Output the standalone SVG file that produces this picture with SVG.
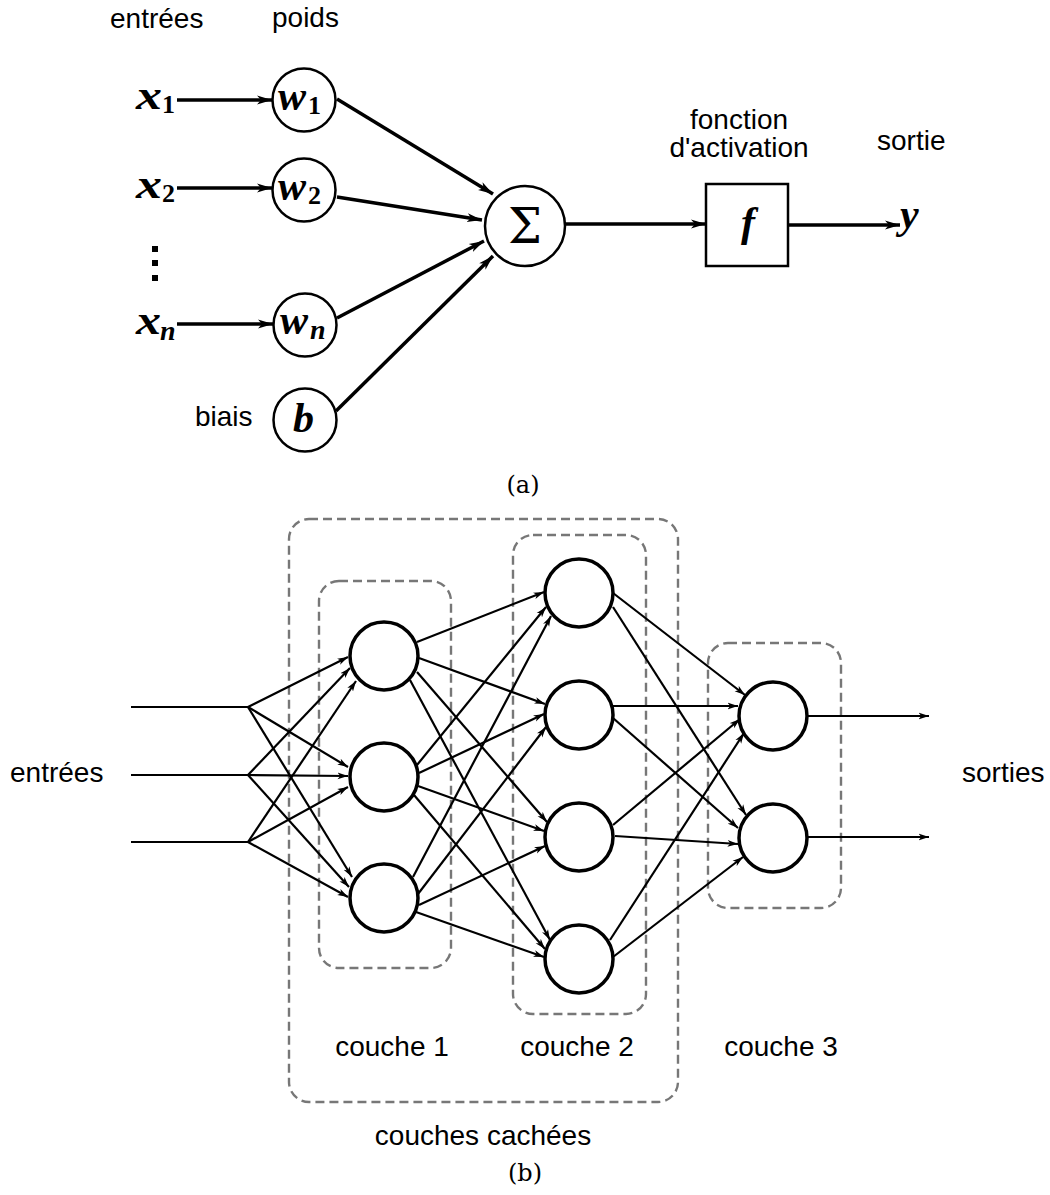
<svg xmlns="http://www.w3.org/2000/svg" width="1050" height="1195" viewBox="0 0 1050 1195">
<style>
.lbl{font-family:"Liberation Sans",Arial,sans-serif;font-size:28px;fill:#000}
.mid{text-anchor:middle}
.cap{font-family:"DejaVu Serif","Liberation Serif",serif;font-size:24px;fill:#000;text-anchor:middle}
.m{font-family:"Liberation Serif","Times New Roman",serif;font-style:italic;font-weight:bold;font-size:42px;fill:#000}
.sub{font-family:"Liberation Serif","Times New Roman",serif;font-weight:bold;font-size:26px;fill:#000}
.subi{font-family:"Liberation Serif","Times New Roman",serif;font-style:italic;font-weight:bold;font-size:28px;fill:#000}
.na{fill:#fff;stroke:#000;stroke-width:2.5}
.nb{fill:#fff;stroke:#000;stroke-width:3.5}
.ea{stroke:#000;stroke-width:3.5;fill:none;marker-end:url(#aa)}
.eb{stroke:#000;stroke-width:2.2;fill:none;marker-end:url(#ab)}
.pl{stroke:#000;stroke-width:2.2;fill:none}
.grp{fill:none;stroke:#777;stroke-width:2.4;stroke-dasharray:9 5}
</style>
<defs>
<marker id="aa" markerUnits="userSpaceOnUse" viewBox="0 0 16 10" markerWidth="16" markerHeight="10" refX="15" refY="5" orient="auto"><path d="M0,0.5 L15,5 L0,9.5 L4,5 z" fill="#000"/></marker>
<marker id="ab" markerUnits="userSpaceOnUse" viewBox="0 0 11 8" markerWidth="11" markerHeight="8" refX="10.5" refY="4" orient="auto"><path d="M0,0.6 L10.5,4 L0,7.4 L2.8,4 z" fill="#000"/></marker>
</defs>

<!-- ===== (a) ===== -->
<text class="lbl" x="110" y="28">entrées</text>
<text class="lbl" x="272" y="27">poids</text>
<text class="lbl mid" x="739" y="129">fonction</text>
<text class="lbl mid" x="739" y="157">d'activation</text>
<text class="lbl" x="877" y="150">sortie</text>
<text class="lbl" x="195" y="426">biais</text>

<g id="x1"><text class="m" x="136" y="109" textLength="26" lengthAdjust="spacingAndGlyphs">x</text><text class="sub" x="162" y="113">1</text></g>
<g id="x2"><text class="m" x="136" y="198" textLength="26" lengthAdjust="spacingAndGlyphs">x</text><text class="sub" x="162" y="202">2</text></g>
<g id="dots"><rect x="152" y="246" width="6" height="6"/><rect x="152" y="260" width="6" height="6"/><rect x="152" y="275" width="6" height="6"/></g>
<g id="xn"><text class="m" x="136" y="334" textLength="25" lengthAdjust="spacingAndGlyphs">x</text><text class="subi" x="160" y="340">n</text></g>

<g id="w1"><circle class="na" cx="304" cy="100" r="31.5"/><text class="m" x="278" y="110">w</text><text class="sub" x="308" y="114">1</text></g>
<g id="w2"><circle class="na" cx="304" cy="190" r="31.5"/><text class="m" x="278" y="200">w</text><text class="sub" x="308" y="204">2</text></g>
<g id="wn"><circle class="na" cx="305" cy="325" r="31.5"/><text class="m" x="280" y="334">w</text><text class="subi" x="310" y="339">n</text></g>
<g id="b"><circle class="na" cx="305" cy="420" r="31.5"/><text class="m" x="293" y="432">b</text></g>
<g id="sum"><circle class="na" cx="525" cy="226" r="40"/><text x="525" y="243" font-family="'DejaVu Serif','Liberation Serif',serif" font-size="48" text-anchor="middle">Σ</text></g>
<g id="f"><rect class="na" x="706" y="184" width="82" height="82"/><text class="m" x="741" y="236">f</text></g>
<g id="y"><text class="m" x="900" y="228">y</text></g>
<text class="cap" x="523" y="493">(a)</text>

<g id="connectors-a">
<line class="ea" x1="177" y1="100" x2="272" y2="100"/>
<line class="ea" x1="177" y1="188" x2="272" y2="188"/>
<line class="ea" x1="177" y1="324" x2="273" y2="324"/>
<line class="ea" x1="337" y1="99" x2="493" y2="194"/>
<line class="ea" x1="337" y1="197" x2="482" y2="220"/>
<line class="ea" x1="337" y1="318" x2="484" y2="241"/>
<line class="ea" x1="336" y1="411" x2="493" y2="256"/>
<line class="ea" x1="565" y1="224" x2="706" y2="224"/>
<line class="ea" x1="788" y1="225" x2="900" y2="225"/>
</g>

<!-- ===== (b) ===== -->
<g id="groups">
<rect id="hidden" class="grp" x="289" y="519" width="389" height="583" rx="20"/>
<rect id="box1" class="grp" x="319" y="581" width="132" height="387" rx="20"/>
<rect id="box2" class="grp" x="513" y="535" width="133" height="479" rx="20"/>
<rect id="box3" class="grp" x="708" y="643" width="133" height="265" rx="20"/>
</g>

<g id="connectors-b">
<line class="pl" x1="131" y1="707" x2="248" y2="707"/>
<line class="pl" x1="131" y1="775" x2="248" y2="775"/>
<line class="pl" x1="131" y1="842" x2="248" y2="842"/>
<line class="eb" x1="248" y1="707" x2="348" y2="657"/>
<line class="eb" x1="248" y1="707" x2="348" y2="767"/>
<line class="eb" x1="248" y1="707" x2="352" y2="877"/>
<line class="eb" x1="248" y1="775" x2="350" y2="668"/>
<line class="eb" x1="248" y1="775" x2="348" y2="776"/>
<line class="eb" x1="248" y1="775" x2="349" y2="887"/>
<line class="eb" x1="248" y1="842" x2="356" y2="681"/>
<line class="eb" x1="248" y1="842" x2="348" y2="787"/>
<line class="eb" x1="248" y1="842" x2="348" y2="897"/>

<line class="eb" x1="417" y1="642" x2="544" y2="592"/>
<line class="eb" x1="419" y1="658" x2="545" y2="704"/>
<line class="eb" x1="417" y1="672" x2="547" y2="822"/>
<line class="eb" x1="410" y1="680" x2="550" y2="940"/>
<line class="eb" x1="417" y1="765" x2="546" y2="607"/>
<line class="eb" x1="419" y1="773" x2="544" y2="714"/>
<line class="eb" x1="418" y1="786" x2="544" y2="831"/>
<line class="eb" x1="414" y1="795" x2="545" y2="949"/>
<line class="eb" x1="413" y1="877" x2="551" y2="616"/>
<line class="eb" x1="418" y1="894" x2="546" y2="727"/>
<line class="eb" x1="419" y1="905" x2="545" y2="846"/>
<line class="eb" x1="416" y1="912" x2="544" y2="957"/>

<line class="eb" x1="613" y1="593" x2="745" y2="695"/>
<line class="eb" x1="613" y1="607" x2="746" y2="815"/>
<line class="eb" x1="613" y1="706" x2="738" y2="706"/>
<line class="eb" x1="613" y1="718" x2="738" y2="828"/>
<line class="eb" x1="613" y1="825" x2="740" y2="719"/>
<line class="eb" x1="615" y1="836" x2="738" y2="844"/>
<line class="eb" x1="610" y1="940" x2="744" y2="733"/>
<line class="eb" x1="613" y1="957" x2="743" y2="857"/>

<line class="eb" x1="807" y1="716" x2="929" y2="716"/>
<line class="eb" x1="807" y1="837" x2="929" y2="837"/>
</g>

<g id="l1n1"><circle class="nb" cx="384" cy="656" r="34"/></g>
<g id="l1n2"><circle class="nb" cx="384" cy="777" r="34"/></g>
<g id="l1n3"><circle class="nb" cx="384" cy="898" r="34"/></g>
<g id="l2n1"><circle class="nb" cx="579" cy="593" r="34"/></g>
<g id="l2n2"><circle class="nb" cx="579" cy="715" r="34"/></g>
<g id="l2n3"><circle class="nb" cx="579" cy="837" r="34"/></g>
<g id="l2n4"><circle class="nb" cx="579" cy="959" r="34"/></g>
<g id="l3n1"><circle class="nb" cx="773" cy="716" r="34"/></g>
<g id="l3n2"><circle class="nb" cx="773" cy="838" r="34"/></g>

<text class="lbl" x="10" y="782">entrées</text>
<text class="lbl" x="962" y="782">sorties</text>
<text class="lbl mid" x="392" y="1056">couche 1</text>
<text class="lbl mid" x="577" y="1056">couche 2</text>
<text class="lbl mid" x="781" y="1056">couche 3</text>
<text class="lbl mid" x="483" y="1145">couches cachées</text>
<text class="cap" x="525" y="1181">(b)</text>
</svg>
